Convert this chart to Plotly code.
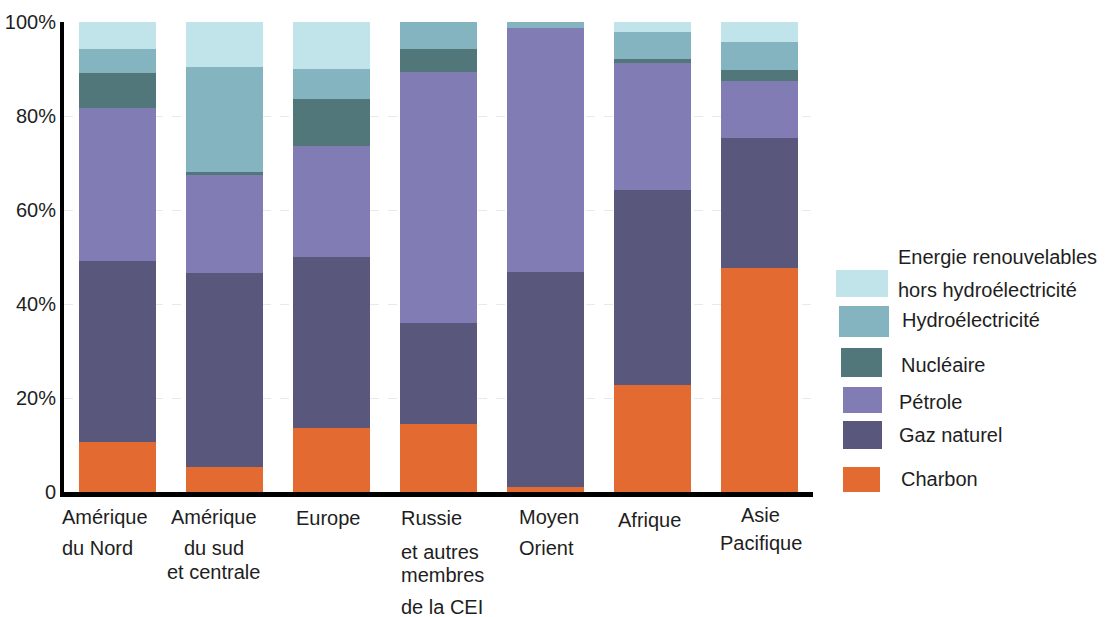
import plotly.graph_objects as go

# ---------------- data ----------------
categories = ["Amérique du Nord", "Amérique du sud et centrale", "Europe",
              "Russie et autres membres de la CEI", "Moyen Orient", "Afrique", "Asie Pacifique"]
category_label_lines = [["Amérique", "du Nord"],
                        ["Amérique", "du sud", "et centrale"],
                        ["Europe"],
                        ["Russie", "et autres", "membres", "de la CEI"],
                        ["Moyen", "Orient"],
                        ["Afrique"],
                        ["Asie", "Pacifique"]]

series_names = ["Charbon", "Gaz naturel", "Pétrole", "Nucléaire", "Hydroélectricité",
                "Energie renouvelables hors hydroélectricité"]
charbon = [10.7, 5.3, 13.7, 14.5, 1.0, 22.8, 47.6]
gaz_naturel = [38.4, 41.4, 36.2, 21.5, 45.9, 41.5, 27.8]
petrole = [32.7, 20.7, 23.8, 53.4, 51.9, 27.0, 12.0]
nucleaire = [7.4, 0.7, 9.9, 4.8, 0.0, 0.8, 2.4]
hydroelectricite = [5.1, 22.4, 6.5, 5.8, 1.2, 5.8, 6.0]
renouvelables = [5.7, 9.5, 9.9, 0.0, 0.0, 2.1, 4.2]

y_tick_values = [0, 20, 40, 60, 80, 100]
y_tick_labels = ["0", "20%", "40%", "60%", "80%", "100%"]

legend_label_lines = [["Energie renouvelables", "hors hydroélectricité"],
                      ["Hydroélectricité"], ["Nucléaire"], ["Pétrole"], ["Gaz naturel"], ["Charbon"]]

# ---------------- style ----------------
colors = ["#E36A30", "#5A577D", "#827CB4", "#52777A", "#84B4C0", "#C1E3EA"]
FONT = "Liberation Sans, Arial, sans-serif"
FS = 20
TXT = "#1e1e1e"
W, H = 1110, 617
L, R, T, B = 64, 297, 22, 125
PW, PH = W - L - R, H - T - B

def py(ypix):
    return (H - B - ypix) / PH

def px(xpix):
    return (xpix - L) / PW

all_series = [charbon, gaz_naturel, petrole, nucleaire, hydroelectricite, renouvelables]

fig = go.Figure()
for name, vals, col in zip(series_names, all_series, colors):
    fig.add_trace(go.Bar(x=categories, y=vals, name=name, marker_color=col,
                         marker_line_width=0, showlegend=False,
                         hovertemplate="%{x}<br>" + name + ": %{y:.1f}%<extra></extra>"))

annotations = []
# category labels (per-line placement: anchor, x offset px from bar centre, line centres in px)
cat_label_layout = [
    ("left", -58, [517, 548]),
    ("center", -11, [517, 548, 572]),
    ("center", -3, [518]),
    ("left", -40, [518, 552, 575, 607]),
    ("left", -29, [517, 548]),
    ("center", -3, [520]),
    ("center", 1, [515, 543]),
]
for cat, lines, (anc, xs, ys) in zip(categories, category_label_lines, cat_label_layout):
    for line, yy in zip(lines, ys):
        annotations.append(dict(x=cat, xref="x", xanchor=anc, xshift=xs,
                                y=py(yy), yref="paper", yanchor="middle",
                                text=line, showarrow=False,
                                font=dict(family=FONT, size=FS, color=TXT)))

# legend drawn manually (top = renewables)
legend_swatches = [(836, 888, 270, 297), (839, 889, 306, 337), (841, 882, 348, 377),
                   (843, 882, 387, 413), (843, 882, 421, 449), (843, 880, 467, 492)]
legend_text_pos = [[(896, 257), (896, 290)], [(900, 320)], [(899, 365)], [(897, 402)],
                   [(897, 435)], [(899, 479)]]
shapes = []
legend_colors = colors[::-1]
for col, (x0, x1, y0, y1), lines, poss in zip(legend_colors, legend_swatches,
                                              legend_label_lines, legend_text_pos):
    shapes.append(dict(type="rect", xref="paper", yref="paper",
                       x0=px(x0), x1=px(x1), y0=py(y1), y1=py(y0),
                       fillcolor=col, line_width=0, layer="above"))
    for line, (xx, yy) in zip(lines, poss):
        annotations.append(dict(x=px(xx), xref="paper", xanchor="left",
                                y=py(yy), yref="paper", yanchor="middle",
                                text=line, showarrow=False,
                                font=dict(family=FONT, size=FS, color=TXT)))

fig.update_layout(
    width=W, height=H,
    margin=dict(l=L, r=R, t=T, b=B, pad=0, autoexpand=False),
    barmode="stack", bargap=0.28,
    plot_bgcolor="white", paper_bgcolor="white",
    font=dict(family=FONT, size=FS, color=TXT),
    annotations=annotations, shapes=shapes,
    xaxis=dict(range=[-0.5, 6.5], showticklabels=False, ticks="",
               showline=True, linecolor="black", linewidth=5, showgrid=False,
               fixedrange=True, automargin=False),
    yaxis=dict(range=[0, 100], tickvals=y_tick_values, ticktext=y_tick_labels,
               showline=True, linecolor="black", linewidth=4, ticks="",
               showgrid=True, gridcolor="#e9e9e9", griddash="dash", gridwidth=1,
               zeroline=False, tickfont=dict(family=FONT, size=FS, color=TXT),
               fixedrange=True, automargin=False),
)

fig.write_html("out.html")
